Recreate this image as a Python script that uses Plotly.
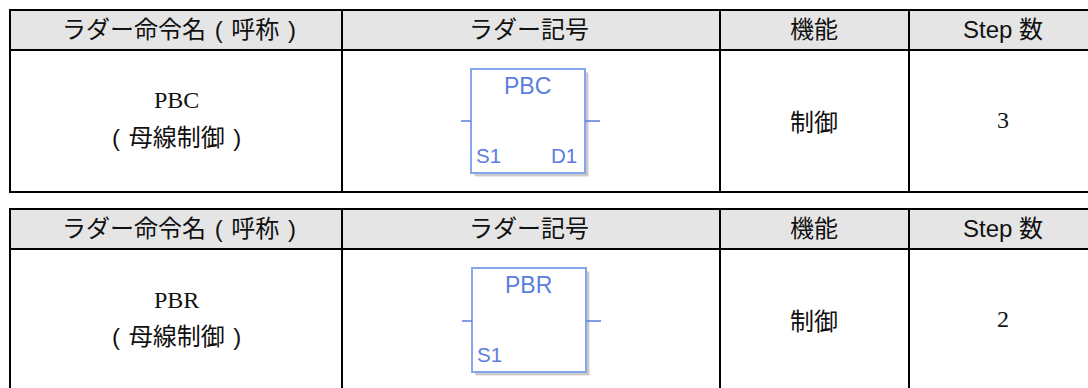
import plotly.graph_objects as go

HEADERS = ["ラダー命令名\u200a\u00a0(\u00a0\u200a呼称\u00a0\u200a)", "ラダー記号", "機能", "Step 数"]
NAMES = ["PBC", "PBR"]
DESCRIPTIONS = ["(\u00a0\u200a母線制御\u00a0\u200a)", "(\u00a0\u200a母線制御\u00a0\u200a)"]
FUNCTIONS = ["制御", "制御"]
STEPS = ["3", "2"]
PORTS = [["S1", "D1"], ["S1"]]

W, H = 1088, 388
COL_X = [10, 342, 720, 909, 1088]
COL_C = [179, 529, 814, 1003]
TABLES = [
    dict(top=10, head=50, bottom=192, closed=True, box=(471, 585, 69, 173), stub=121, name_y=100),
    dict(top=209, head=249, bottom=388, closed=False, box=(472, 586, 268, 372), stub=321, name_y=300),
]
CJK = "Noto Sans CJK JP"
SANS = "Liberation Sans, " + CJK
SERIF = "Liberation Serif"
BLUE = "#5a7de0"
EDGE = "#86a6ec"
TEXT_SIZE = 24

shapes, ann = [], []

def line(x0, y0, x1, y1, color="#000000", width=2):
    shapes.append(dict(type="line", xref="x", yref="y", x0=x0, y0=y0, x1=x1, y1=y1,
                       line=dict(color=color, width=width)))

def text(x, y, s, size=TEXT_SIZE, font=CJK, color="#111111"):
    ann.append(dict(x=x, y=y, xref="x", yref="y", text=s, showarrow=False,
                    xanchor="center", yanchor="middle",
                    font=dict(family=font, size=size, color=color)))

for i, t in enumerate(TABLES):
    shapes.append(dict(type="rect", xref="x", yref="y", x0=COL_X[0], x1=W, y0=t["top"], y1=t["head"],
                       fillcolor="#e5e5e5", line=dict(width=0), layer="below"))
    line(COL_X[0] - 1, t["top"], W, t["top"])
    line(COL_X[0], t["head"], W, t["head"])
    if t["closed"]:
        line(COL_X[0] - 1, t["bottom"], W, t["bottom"])
    for x in COL_X[:-1]:
        line(x, t["top"], x, t["bottom"])

    for c, h in zip(COL_C, HEADERS):
        text(c, (t["top"] + t["head"]) / 2 - 1, h, font=SANS)

    base = t["top"]
    text(COL_C[0] - 3, t["name_y"], NAMES[i], size=24, font=SERIF)
    text(COL_C[0] - 3, base + 127, DESCRIPTIONS[i], font=SANS)
    text(COL_C[2], base + 110.5, FUNCTIONS[i])
    text(COL_C[3], base + 110, STEPS[i], size=24, font=SERIF)

    x0, x1, y0, y1 = t["box"]
    for off, alpha in ((4, 0.15), (3, 0.25)):
        shapes.append(dict(type="rect", xref="x", yref="y", x0=x0 + off, x1=x1 + off, y0=y0 + off, y1=y1 + off,
                           fillcolor=f"rgba(110,110,110,{alpha})", line=dict(width=0)))
    shapes.append(dict(type="rect", xref="x", yref="y", x0=x0, x1=x1, y0=y0, y1=y1,
                       fillcolor="#ffffff", line=dict(color=EDGE, width=2)))
    line(x0 - 10, t["stub"], x0, t["stub"], color=BLUE, width=1.5)
    line(x1, t["stub"], x1 + 15, t["stub"], color=BLUE, width=1.5)
    text((x0 + x1) / 2 - 1, y0 + 17, NAMES[i], size=23, font="Liberation Sans", color=BLUE)
    text(x0 + 17, y1 - 18, PORTS[i][0], size=20.5, font="Liberation Sans", color=BLUE)
    if len(PORTS[i]) > 1:
        text(x1 - 21, y1 - 18, PORTS[i][1], size=20.5, font="Liberation Sans", color=BLUE)

fig = go.Figure()
fig.update_layout(
    width=W, height=H, margin=dict(l=0, r=0, t=0, b=0),
    paper_bgcolor="#ffffff", plot_bgcolor="#ffffff", showlegend=False,
    xaxis=dict(range=[0, W], visible=False, fixedrange=True),
    yaxis=dict(range=[H, 0], visible=False, fixedrange=True),
    shapes=shapes, annotations=ann,
)
fig.write_html("out.html", config={"displayModeBar": False},
               post_script="document.body.style.margin='0';document.body.style.overflow='hidden';")
